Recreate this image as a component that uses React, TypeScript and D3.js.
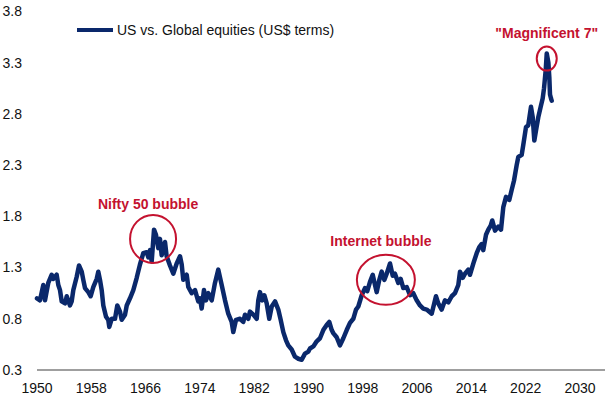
import React from 'react';
import * as d3 from 'd3';

// US vs. Global equities relative performance (US$ terms)
const years = [
  1950.0, 1950.44, 1950.93, 1951.18, 1951.66, 1952.17, 1952.4, 1952.9, 1953.14, 1953.39,
  1953.64, 1954.13, 1954.38, 1954.86, 1955.11, 1955.35, 1955.85, 1956.19, 1956.59, 1956.82,
  1957.07, 1957.56, 1957.91, 1958.29, 1958.8, 1959.03, 1959.28, 1959.53, 1959.77, 1960.17,
  1960.5, 1960.65, 1961.01, 1961.49, 1961.83, 1962.23, 1962.48, 1962.97, 1963.22, 1963.7,
  1964.19, 1964.69, 1965.17, 1965.66, 1966.16, 1966.4, 1966.65, 1966.9, 1967.24, 1967.53,
  1967.87, 1968.12, 1968.37, 1968.86, 1969.1, 1969.59, 1970.08, 1970.58, 1971.07, 1971.32,
  1971.55, 1972.06, 1972.29, 1972.79, 1973.28, 1973.76, 1974.01, 1974.26, 1974.6, 1974.9,
  1975.24, 1975.74, 1976.22, 1976.71, 1977.21, 1977.7, 1978.18, 1978.68, 1978.92, 1979.32,
  1979.91, 1980.39, 1980.64, 1981.13, 1981.38, 1981.87, 1982.37, 1982.6, 1982.85, 1983.19,
  1983.49, 1983.84, 1984.22, 1984.58, 1985.07, 1985.55, 1985.9, 1986.29, 1986.69, 1987.02,
  1987.52, 1988.01, 1988.5, 1989.0, 1989.48, 1989.97, 1990.22, 1990.71, 1991.21, 1991.69,
  1992.18, 1992.68, 1993.06, 1993.42, 1993.65, 1994.15, 1994.64, 1995.13, 1995.63, 1996.11,
  1996.6, 1997.0, 1997.34, 1997.84, 1998.32, 1998.66, 1999.06, 1999.46, 1999.8, 2000.05,
  2000.43, 2000.78, 2001.17, 2001.52, 2002.01, 2002.41, 2002.74, 2003.23, 2003.58, 2003.97,
  2004.47, 2004.95, 2005.44, 2005.94, 2006.43, 2006.91, 2007.41, 2008.15, 2008.78, 2009.12,
  2009.62, 2010.11, 2010.6, 2011.1, 2011.58, 2012.07, 2012.32, 2012.72, 2013.06, 2013.54,
  2013.79, 2014.38, 2014.78, 2015.16, 2015.52, 2015.75, 2016.15, 2016.49, 2016.84, 2017.07,
  2017.48, 2017.96, 2018.36, 2018.7, 2019.1, 2019.58, 2019.94, 2020.28, 2020.67, 2020.91,
  2021.41, 2021.65, 2022.04, 2022.38, 2022.78, 2023.03, 2023.27, 2023.52, 2023.86, 2024.21,
  2024.5, 2024.7, 2024.95, 2025.1, 2025.34, 2025.48, 2025.58, 2025.73, 2025.83,
];

const ratio = [
  1.0, 0.98, 1.13, 0.98, 1.15, 1.23, 1.19, 1.23, 1.13, 1.08,
  0.97, 0.95, 1.02, 0.93, 0.97, 1.08, 1.21, 1.32, 1.26, 1.18,
  1.1, 1.06, 1.02, 1.11, 1.19, 1.26, 1.18, 1.08, 0.93, 0.82,
  0.79, 0.72, 0.8, 0.8, 0.93, 0.87, 0.79, 0.84, 0.93, 1.0,
  1.08, 1.2, 1.33, 1.44, 1.45, 1.4, 1.47, 1.36, 1.67, 1.62,
  1.49, 1.58, 1.42, 1.55, 1.41, 1.32, 1.24, 1.34, 1.41, 1.33,
  1.18, 1.23, 1.11, 1.05, 1.08, 0.97, 1.0, 0.9, 1.08, 0.98,
  1.05, 0.98, 1.15, 1.28, 1.13, 0.98, 0.85, 0.77, 0.67, 0.79,
  0.8, 0.77, 0.84, 0.8, 0.87, 0.84, 0.8, 0.98, 1.06, 0.98,
  1.03, 0.95, 0.8, 0.92, 0.97, 0.89, 0.79, 0.67, 0.59, 0.54,
  0.5, 0.43, 0.41, 0.4, 0.46, 0.48, 0.51, 0.53, 0.58, 0.61,
  0.69, 0.74, 0.77, 0.69, 0.66, 0.62, 0.54, 0.61, 0.69, 0.76,
  0.8, 0.89, 0.92, 1.03, 1.1, 1.07, 1.16, 1.23, 1.13, 1.06,
  1.18, 1.26, 1.18, 1.24, 1.34, 1.22, 1.24, 1.15, 1.19, 1.1,
  1.11, 1.03, 1.05, 0.98, 0.93, 0.9, 0.89, 0.85, 1.02, 0.95,
  0.89, 0.98, 0.96, 1.02, 1.05, 1.13, 1.26, 1.2, 1.24, 1.28,
  1.23, 1.36, 1.44, 1.5, 1.53, 1.47, 1.62, 1.67, 1.71, 1.76,
  1.66, 1.7, 1.67, 1.89, 1.99, 1.96, 2.06, 2.15, 2.3, 2.38,
  2.4, 2.5, 2.67, 2.69, 2.87, 2.77, 2.54, 2.64, 2.77, 2.87,
  2.95, 3.05, 3.23, 3.39, 3.3, 3.16, 2.99, 2.95, 2.93,
];

const yTicks = [0.3, 0.8, 1.3, 1.8, 2.3, 2.8, 3.3, 3.8];
const xTicks = [1950, 1958, 1966, 1974, 1982, 1990, 1998, 2006, 2014, 2022, 2030];

const seriesName = 'US vs. Global equities (US$ terms)';

// annotation label, circle centre in data terms
const notes = [
  { label: 'Nifty 50 bubble', year: 1967.1, value: 1.58, rx: 23, ry: 24, dx: -5, dy: -30 },
  { label: 'Internet bubble', year: 2001.4, value: 1.18, rx: 29, ry: 25, dx: -5, dy: -34 },
  { label: '"Magnificent 7"', year: 2025.1, value: 3.34, rx: 10, ry: 12, dx: 0, dy: -21 },
];

const W = 605;
const H = 397;
const navy = '#0a286b';
const red = '#c4122f';
const font = '"Liberation Sans", Arial, sans-serif';

export default function App() {
  const x = d3.scaleLinear().domain([1950, 2030]).range([37, 580]);
  const y = d3.scaleLinear().domain([0.3, 3.8]).range([370, 11.5]);

  const line = d3
    .line<number>()
    .x((_, i) => x(years[i]))
    .y((d) => y(d));

  return (
    <svg
      width={W}
      height={H}
      style={{ position: 'absolute', left: 0, top: 0, background: '#fff' }}
      fontFamily={font}
    >
      {/* y labels */}
      {yTicks.map((t) => (
        <text key={t} x={22} y={y(t)} dy="0.35em" textAnchor="end" fontSize={14} fill="#111">
          {t.toFixed(1)}
        </text>
      ))}

      {/* x axis */}
      <line x1={37} x2={W} y1={370} y2={370} stroke="#7f7f7f" strokeWidth={1.5} />
      {xTicks.map((t) => (
        <text key={t} x={x(t)} y={393} textAnchor="middle" fontSize={14} fill="#111">
          {t}
        </text>
      ))}

      {/* legend */}
      <line x1={77} x2={113} y1={30} y2={30} stroke={navy} strokeWidth={4} />
      <text x={117} y={35} fontSize={14} fill="#111">
        {seriesName}
      </text>

      {/* series */}
      <path
        d={line(ratio) || ''}
        fill="none"
        stroke={navy}
        strokeWidth={4.5}
        strokeLinejoin="round"
        strokeLinecap="round"
      />

      {/* annotations */}
      {notes.map((n) => {
        const cx = x(n.year);
        const cy = y(n.value);
        return (
          <g key={n.label}>
            <ellipse cx={cx} cy={cy} rx={n.rx} ry={n.ry} fill="none" stroke={red} strokeWidth={2} />
            <text x={cx + n.dx} y={cy + n.dy} textAnchor="middle" fontSize={14} fontWeight="bold" fill={red}>
              {n.label}
            </text>
          </g>
        );
      })}
    </svg>
  );
}
